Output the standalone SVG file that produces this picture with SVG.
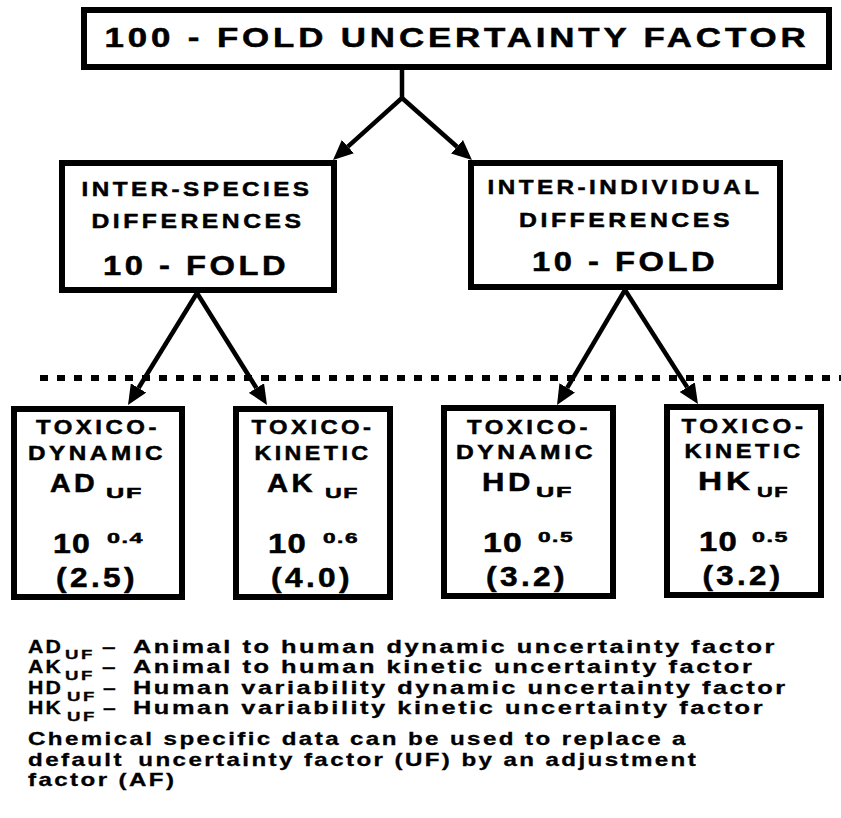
<svg xmlns="http://www.w3.org/2000/svg" width="841" height="818" viewBox="0 0 841 818">
<style>
.box{fill:#fff;stroke:#000;stroke-width:6}
.t{font-family:"Liberation Sans",Arial,Helvetica,sans-serif;font-weight:bold;fill:#000;stroke:#000;stroke-width:0.5;letter-spacing:3px}
.m{text-anchor:middle}
.s{letter-spacing:1px}
.con{fill:none;stroke:#000;stroke-width:4.5}
.dot{stroke:#000;stroke-width:6;stroke-dasharray:8 9}
.lg{font-family:"Liberation Sans",Arial,Helvetica,sans-serif;font-weight:bold;font-size:18px;fill:#000;stroke:#000;stroke-width:0.3;letter-spacing:1.8px}
</style>
<defs>
<marker id="ah" markerUnits="userSpaceOnUse" markerWidth="20" markerHeight="18" refX="0" refY="9" orient="auto" viewBox="0 0 20 18">
<path d="M0,0 L20,9 L0,18 Z" fill="#000"/>
</marker>
</defs>
<rect width="841" height="818" fill="#fff"/>

<g id="connectors">
<line class="dot" x1="40" y1="378" x2="841" y2="378"/>
<path class="con" d="M402,70 L402,98 L347.9,146.6" marker-end="url(#ah)"/>
<path class="con" d="M402,98 L457,146.7" marker-end="url(#ah)"/>
<path class="con" d="M197,293 L138.5,388" marker-end="url(#ah)"/>
<path class="con" d="M197,293 L256.4,388" marker-end="url(#ah)"/>
<path class="con" d="M625,290 L567.2,387.8" marker-end="url(#ah)"/>
<path class="con" d="M625,290 L687.2,387.2" marker-end="url(#ah)"/>
</g>

<g id="top">
<rect class="box" x="84" y="10" width="745" height="57"/>
<text class="t m" x="457" y="47" font-size="27" textLength="705" lengthAdjust="spacingAndGlyphs">100 - FOLD UNCERTAINTY FACTOR</text>
</g>

<g id="inter-species">
<rect class="box" x="62" y="163" width="272" height="127"/>
<text class="t m" x="197" y="196" font-size="21" textLength="231" lengthAdjust="spacingAndGlyphs">INTER-SPECIES</text>
<text class="t m" x="198" y="228" font-size="21" textLength="213" lengthAdjust="spacingAndGlyphs">DIFFERENCES</text>
<text class="t m" x="196" y="275" font-size="28" textLength="186" lengthAdjust="spacingAndGlyphs">10 - FOLD</text>
</g>

<g id="inter-individual">
<rect class="box" x="471" y="163" width="309" height="124"/>
<text class="t m" x="625" y="194" font-size="21" textLength="275" lengthAdjust="spacingAndGlyphs">INTER-INDIVIDUAL</text>
<text class="t m" x="626" y="227" font-size="21" textLength="214" lengthAdjust="spacingAndGlyphs">DIFFERENCES</text>
<text class="t m" x="625" y="271" font-size="28" textLength="186" lengthAdjust="spacingAndGlyphs">10 - FOLD</text>
</g>

<g id="ad-uf">
<rect class="box" x="14" y="409" width="168" height="188"/>
<text class="t m" x="98" y="434" font-size="20.5" textLength="124" lengthAdjust="spacingAndGlyphs">TOXICO-</text>
<text class="t m" x="97" y="460" font-size="20.5" textLength="138" lengthAdjust="spacingAndGlyphs">DYNAMIC</text>
<text class="t" x="50" y="492" font-size="26" textLength="48" lengthAdjust="spacingAndGlyphs">AD</text>
<text class="t s" x="106" y="498" font-size="15" textLength="37" lengthAdjust="spacingAndGlyphs">UF</text>
<text class="t s" x="53" y="553" font-size="27" textLength="38" lengthAdjust="spacingAndGlyphs">10</text>
<text class="t s" x="107" y="543" font-size="15" textLength="37" lengthAdjust="spacingAndGlyphs">0.4</text>
<text class="t m" x="97" y="587" font-size="28" textLength="82" lengthAdjust="spacingAndGlyphs">(2.5)</text>
</g>

<g id="ak-uf">
<rect class="box" x="236" y="409" width="154" height="188"/>
<text class="t m" x="313" y="434" font-size="20.5" textLength="123" lengthAdjust="spacingAndGlyphs">TOXICO-</text>
<text class="t m" x="313" y="460" font-size="20.5" textLength="117" lengthAdjust="spacingAndGlyphs">KINETIC</text>
<text class="t" x="267" y="492" font-size="26" textLength="49" lengthAdjust="spacingAndGlyphs">AK</text>
<text class="t s" x="325" y="498" font-size="15" textLength="34" lengthAdjust="spacingAndGlyphs">UF</text>
<text class="t s" x="268" y="553" font-size="27" textLength="39" lengthAdjust="spacingAndGlyphs">10</text>
<text class="t s" x="323" y="543" font-size="15" textLength="36" lengthAdjust="spacingAndGlyphs">0.6</text>
<text class="t m" x="312" y="587" font-size="28" textLength="82" lengthAdjust="spacingAndGlyphs">(4.0)</text>
</g>

<g id="hd-uf">
<rect class="box" x="444" y="408" width="169" height="188"/>
<text class="t m" x="529" y="434" font-size="20.5" textLength="124" lengthAdjust="spacingAndGlyphs">TOXICO-</text>
<text class="t m" x="526" y="459" font-size="20.5" textLength="140" lengthAdjust="spacingAndGlyphs">DYNAMIC</text>
<text class="t" x="482" y="491" font-size="26" textLength="52" lengthAdjust="spacingAndGlyphs">HD</text>
<text class="t s" x="536" y="497" font-size="15" textLength="37" lengthAdjust="spacingAndGlyphs">UF</text>
<text class="t s" x="483" y="552" font-size="27" textLength="40" lengthAdjust="spacingAndGlyphs">10</text>
<text class="t s" x="538" y="542" font-size="15" textLength="36" lengthAdjust="spacingAndGlyphs">0.5</text>
<text class="t m" x="527" y="586" font-size="28" textLength="82" lengthAdjust="spacingAndGlyphs">(3.2)</text>
</g>

<g id="hk-uf">
<rect class="box" x="667" y="407" width="154" height="188"/>
<text class="t m" x="744" y="433" font-size="20.5" textLength="125" lengthAdjust="spacingAndGlyphs">TOXICO-</text>
<text class="t m" x="744" y="458" font-size="20.5" textLength="119" lengthAdjust="spacingAndGlyphs">KINETIC</text>
<text class="t" x="698" y="490" font-size="26" textLength="56" lengthAdjust="spacingAndGlyphs">HK</text>
<text class="t s" x="757" y="497" font-size="15" textLength="32" lengthAdjust="spacingAndGlyphs">UF</text>
<text class="t s" x="699" y="551" font-size="27" textLength="39" lengthAdjust="spacingAndGlyphs">10</text>
<text class="t s" x="752" y="542" font-size="15" textLength="37" lengthAdjust="spacingAndGlyphs">0.5</text>
<text class="t m" x="743" y="585" font-size="28" textLength="81" lengthAdjust="spacingAndGlyphs">(3.2)</text>
</g>

<g id="legend">
<text class="lg" x="28" y="653" textLength="35" lengthAdjust="spacingAndGlyphs">AD</text>
<text class="lg" x="65" y="659" textLength="30" lengthAdjust="spacingAndGlyphs" style="font-size:13px">UF</text>
<text class="lg" x="102" y="653" textLength="16" lengthAdjust="spacingAndGlyphs">–</text>
<text class="lg" transform="translate(133,653) scale(1.41,1)">Animal to human dynamic uncertainty factor</text>

<text class="lg" x="28" y="673" textLength="35" lengthAdjust="spacingAndGlyphs">AK</text>
<text class="lg" x="65" y="680" textLength="30" lengthAdjust="spacingAndGlyphs" style="font-size:13px">UF</text>
<text class="lg" x="102" y="673" textLength="16" lengthAdjust="spacingAndGlyphs">–</text>
<text class="lg" transform="translate(133,673) scale(1.41,1)">Animal to human kinetic uncertainty factor</text>

<text class="lg" x="28" y="694" textLength="35" lengthAdjust="spacingAndGlyphs">HD</text>
<text class="lg" x="67" y="701" textLength="30" lengthAdjust="spacingAndGlyphs" style="font-size:13px">UF</text>
<text class="lg" x="103" y="694" textLength="15" lengthAdjust="spacingAndGlyphs">–</text>
<text class="lg" transform="translate(133,694) scale(1.41,1)">Human variability dynamic uncertainty factor</text>

<text class="lg" x="28" y="714" textLength="35" lengthAdjust="spacingAndGlyphs">HK</text>
<text class="lg" x="67" y="721" textLength="30" lengthAdjust="spacingAndGlyphs" style="font-size:13px">UF</text>
<text class="lg" x="103" y="714" textLength="15" lengthAdjust="spacingAndGlyphs">–</text>
<text class="lg" transform="translate(133,714) scale(1.41,1)">Human variability kinetic uncertainty factor</text>

<text class="lg" transform="translate(28,745) scale(1.34,1)">Chemical specific data can be used to replace a</text>
<text class="lg" transform="translate(28,766) scale(1.34,1)">default <tspan dx="4">uncertainty factor (UF) by an adjustment</tspan></text>
<text class="lg" transform="translate(28,786) scale(1.34,1)">factor (AF)</text>
</g>
</svg>
